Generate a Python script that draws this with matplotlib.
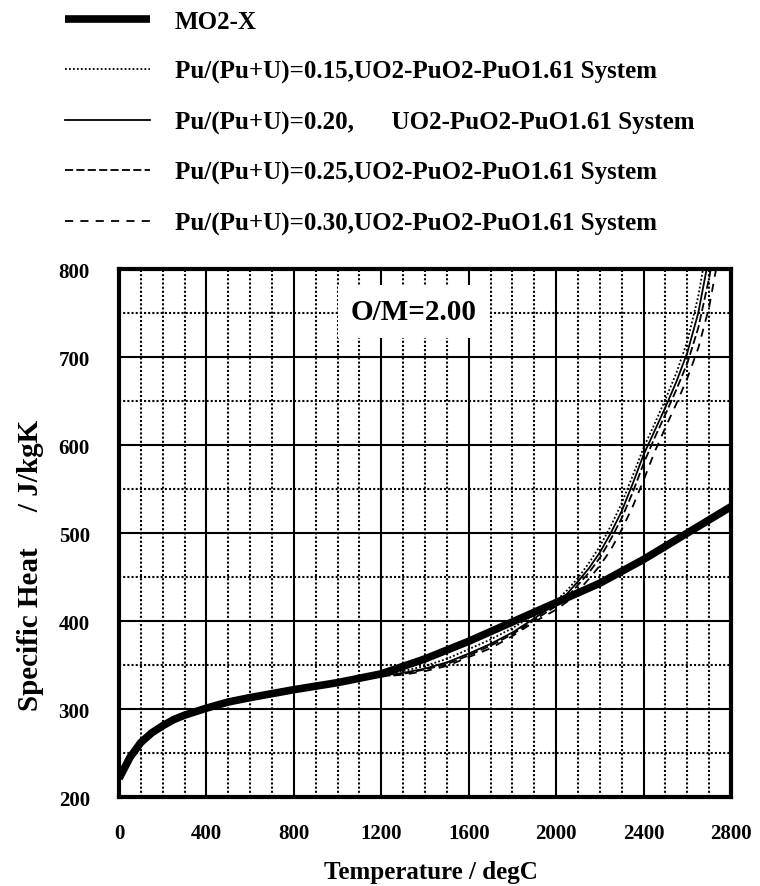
import matplotlib
matplotlib.use("Agg")
import matplotlib.pyplot as plt
from matplotlib.ticker import MultipleLocator

plt.rcParams['font.family'] = ['Liberation Serif', 'DejaVu Serif']
plt.rcParams['font.weight'] = 'bold'

# MO2-X correlation
temp_mox = [0, 50, 100, 150, 200, 250, 300, 400, 500, 600, 800, 1000, 1200,
            1400, 1600, 1800, 2000, 2200, 2400, 2600, 2800]
cp_mox = [221, 245, 262, 273, 281, 288, 293, 301, 308, 313, 322, 330, 340,
          357, 377, 399, 421, 443, 470, 500, 530]

# UO2-PuO2-PuO1.61 system, one curve per Pu/(Pu+U)
temp_pu = [0, 100, 200, 300, 400, 600, 800, 1000, 1200, 1300, 1400, 1500,
           1600, 1700, 1800, 1900, 2000, 2050, 2100, 2150, 2200, 2250, 2300,
           2350, 2400, 2450, 2500, 2550, 2600, 2650, 2700, 2750]
cp_pu15 = [221, 262, 281, 293, 301, 313, 322, 330, 339, 343, 349, 357,
           368, 379, 392, 407, 423, 435, 449, 466, 485, 508, 534,
           565, 597, 624, 652, 682, 718, 769, 840, 920]
cp_pu20 = [221, 262, 281, 293, 301, 313, 322, 330, 338, 341, 346, 353,
           363, 374, 387, 403, 420, 431, 445, 460, 478, 500, 525,
           556, 589, 616, 643, 672, 705, 750, 815, 890]
cp_pu25 = [221, 262, 281, 293, 301, 313, 322, 330, 337, 340, 345, 351,
           361, 372, 385, 401, 417, 427, 441, 455, 472, 493, 517,
           546, 579, 608, 635, 663, 693, 733, 790, 860]
cp_pu30 = [221, 262, 281, 293, 301, 313, 322, 330, 337, 339, 343, 349,
           359, 369, 383, 399, 413, 422, 434, 448, 463, 481, 504,
           530, 560, 592, 620, 647, 676, 710, 757, 825]

labels = ["MO2-X",
          "Pu/(Pu+U)=0.15,UO2-PuO2-PuO1.61 System",
          "Pu/(Pu+U)=0.20,      UO2-PuO2-PuO1.61 System",
          "Pu/(Pu+U)=0.25,UO2-PuO2-PuO1.61 System",
          "Pu/(Pu+U)=0.30,UO2-PuO2-PuO1.61 System"]

fig = plt.figure(figsize=(7.6, 8.87), dpi=100)
ax = fig.add_axes([0.1566, 0.1003, 0.8053, 0.5953])

h0, = ax.plot(temp_mox, cp_mox, color='black', lw=5.5, solid_capstyle='butt')
h1, = ax.plot(temp_pu, cp_pu15, color='black', lw=1.3, linestyle=(0, (1, 1.2)))
h2, = ax.plot(temp_pu, cp_pu20, color='black', lw=1.3)
h3, = ax.plot(temp_pu, cp_pu25, color='black', lw=1.3, linestyle=(0, (4.5, 1.8)))
h4, = ax.plot(temp_pu, cp_pu30, color='black', lw=1.3, linestyle=(0, (4.5, 4.0)))

ax.set_xlim(0, 2800)
ax.set_ylim(200, 800)
ax.xaxis.set_major_locator(MultipleLocator(400))
ax.xaxis.set_minor_locator(MultipleLocator(100))
ax.yaxis.set_major_locator(MultipleLocator(100))
ax.yaxis.set_minor_locator(MultipleLocator(50))
ax.set_axisbelow(True)
ax.grid(which='major', color='black', lw=1.5, linestyle='-')
ax.grid(which='minor', color='black', lw=1.5, linestyle=(0, (1, 1)))
ax.tick_params(which='both', length=0)
ax.tick_params(axis='x', labelsize=15, pad=19)
ax.tick_params(axis='y', labelsize=15, pad=21)
for lbl in ax.get_xticklabels() + ax.get_yticklabels():
    lbl.set_fontweight('bold')
for sp in ax.spines.values():
    sp.set_linewidth(3)

ax.text(1350, 752, "O/M=2.00", ha='center', va='center', fontsize=21,
        fontweight='bold',
        bbox=dict(boxstyle='square,pad=0.45', facecolor='white', edgecolor='none'))

fig.text(0.567, 0.016, "Temperature / degC", ha='center', va='center',
         fontsize=18, fontweight='bold')
fig.text(0.04, 0.363, "Specific Heat     / J/kgK", ha='center', va='center',
         rotation=90, fontsize=21, fontweight='bold')

ax.legend([h0, h1, h2, h3, h4], labels, loc='upper left',
          bbox_to_anchor=(65 / 760, 1 - 11 / 887), bbox_transform=fig.transFigure,
          frameon=False, fontsize=18, handlelength=3.4, handletextpad=1.0,
          labelspacing=1.08, borderpad=0, borderaxespad=0)

fig.savefig("out.png", dpi=100)
